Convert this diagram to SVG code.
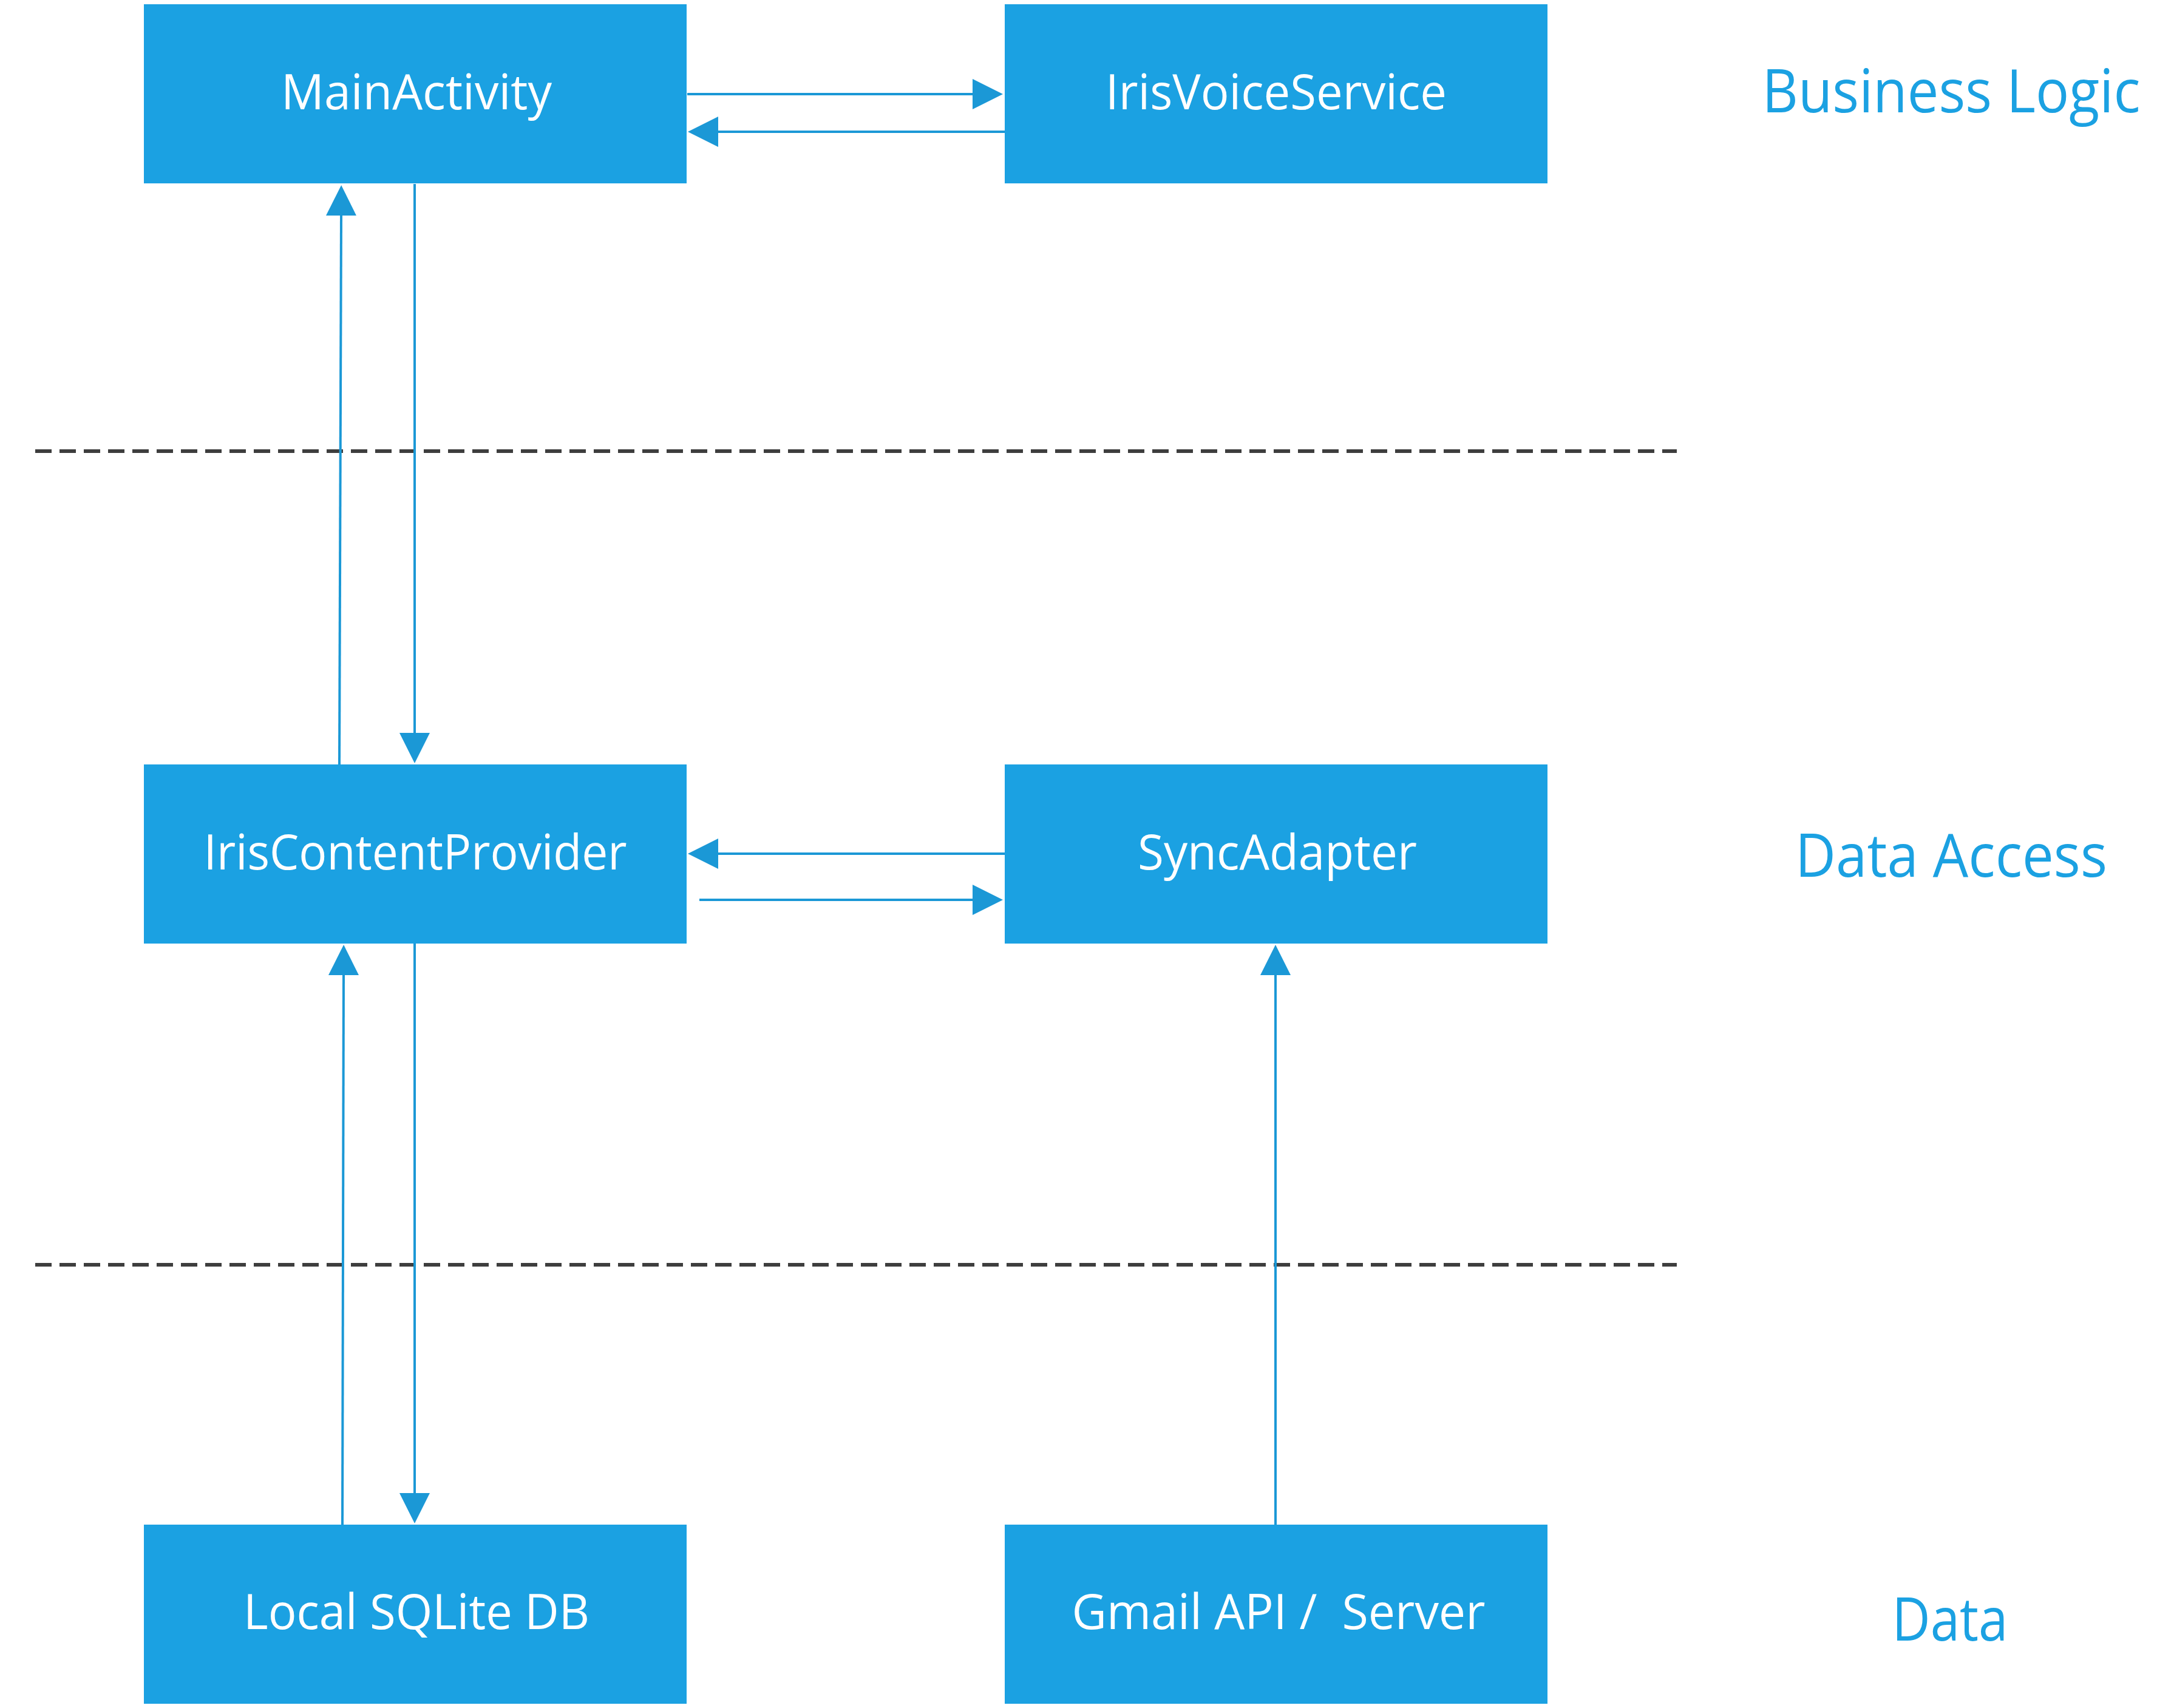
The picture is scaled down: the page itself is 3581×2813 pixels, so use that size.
<svg xmlns="http://www.w3.org/2000/svg" width="3581" height="2813" viewBox="0 0 3581 2813">
<style>
.node rect{fill:#1BA1E2}
.node text{fill:#FFFFFF;font-family:"Open Sans","Noto Sans","Liberation Sans",sans-serif;font-size:81px;text-anchor:middle;white-space:pre}
.layer{fill:#1BA1E2;font-family:"Open Sans","Noto Sans","Liberation Sans",sans-serif;font-size:98px;text-anchor:middle}
.conn line{stroke:#1B98D6;stroke-width:4;fill:none;marker-end:url(#arrow)}
.sep{stroke:#3E3E3E;stroke-width:6;stroke-dasharray:27 13;fill:none}
</style>
<defs>
<marker id="arrow" markerUnits="userSpaceOnUse" markerWidth="50" markerHeight="50" viewBox="0 0 50 50" refX="0" refY="25" orient="auto">
<path d="M0,0 L50,25 L0,50 Z" fill="#1B98D6"/>
</marker>
</defs>
<rect width="3581" height="2813" fill="#FFFFFF"/>
<g id="separators">
<line class="sep" x1="58" y1="743" x2="2762" y2="743"/>
<line class="sep" x1="58" y1="2083" x2="2762" y2="2083"/>
</g>
<g id="layer-labels">
<text class="layer" x="3214" y="185" textLength="623" lengthAdjust="spacingAndGlyphs">Business Logic</text>
<text class="layer" x="3214" y="1444" textLength="514" lengthAdjust="spacingAndGlyphs">Data Access</text>
<text class="layer" x="3212" y="2702" textLength="191" lengthAdjust="spacingAndGlyphs">Data</text>
</g>
<g id="n-mainactivity" class="node">
<rect x="237" y="7" width="894" height="295"/>
<text x="686" y="180" textLength="446" lengthAdjust="spacingAndGlyphs">MainActivity</text>
</g>
<g id="n-irisvoiceservice" class="node">
<rect x="1655" y="7" width="894" height="295"/>
<text x="2102" y="180" textLength="562" lengthAdjust="spacingAndGlyphs">IrisVoiceService</text>
</g>
<g id="n-iriscontentprovider" class="node">
<rect x="237" y="1259" width="894" height="295"/>
<text x="684" y="1432" textLength="697" lengthAdjust="spacingAndGlyphs">IrisContentProvider</text>
</g>
<g id="n-syncadapter" class="node">
<rect x="1655" y="1259" width="894" height="295"/>
<text x="2104" y="1432" textLength="460" lengthAdjust="spacingAndGlyphs">SyncAdapter</text>
</g>
<g id="n-sqlite" class="node">
<rect x="237" y="2511" width="894" height="295"/>
<text x="686" y="2683" textLength="570" lengthAdjust="spacingAndGlyphs">Local SQLite DB</text>
</g>
<g id="n-gmail" class="node">
<rect x="1655" y="2511" width="894" height="295"/>
<text x="2106" y="2683" textLength="681" lengthAdjust="spacingAndGlyphs" xml:space="preserve">Gmail API /  Server</text>
</g>
<g id="connectors" class="conn">
<line x1="1132" y1="155" x2="1602" y2="155"/>
<line x1="1655" y1="217" x2="1183" y2="217"/>
<line x1="559" y1="1259" x2="562" y2="355"/>
<line x1="683" y1="303" x2="683" y2="1207"/>
<line x1="1655" y1="1406" x2="1183" y2="1406"/>
<line x1="1152" y1="1482" x2="1602" y2="1482"/>
<line x1="564" y1="2511" x2="566" y2="1606"/>
<line x1="683" y1="1554" x2="683" y2="2459"/>
<line x1="2101" y1="2511" x2="2101" y2="1606"/>
</g>
</svg>
